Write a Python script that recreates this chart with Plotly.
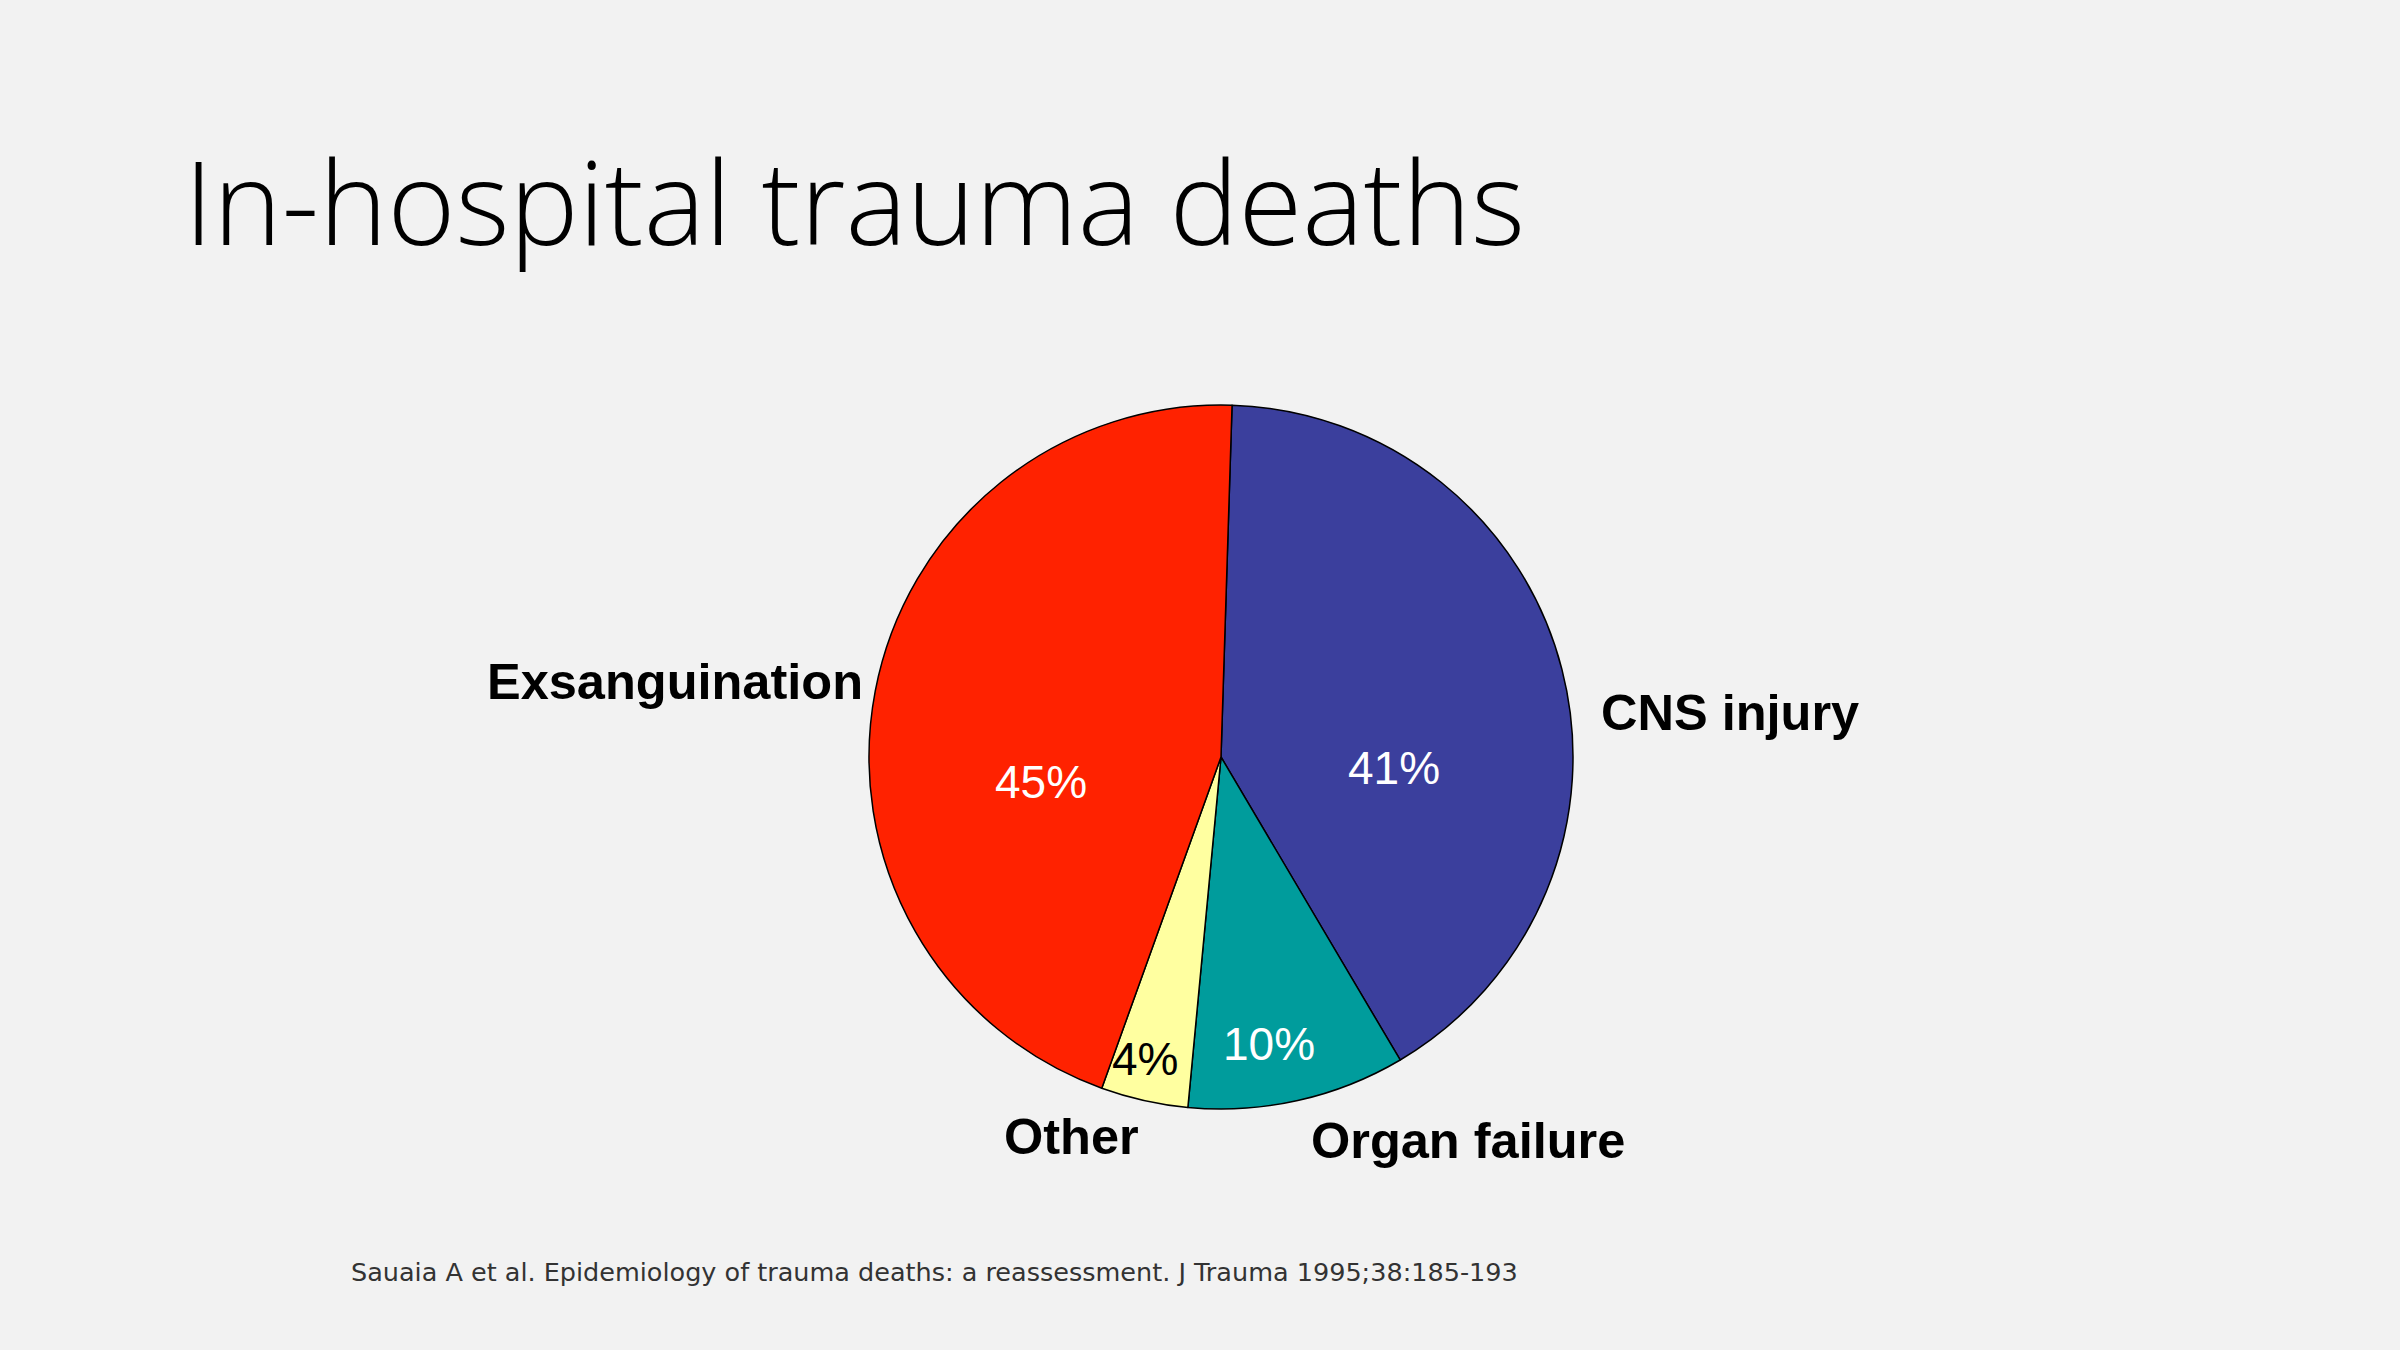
import plotly.graph_objects as go

W, H = 2400, 1350

categories = ["CNS injury", "Organ failure", "Other", "Exsanguination"]
values = [41, 10, 4, 45]
colors = ["#3b3f9d", "#009c9c", "#ffffa0", "#ff2200"]
pct_colors = ["white", "white", "black", "white"]

title_text = "In-hospital trauma deaths"
citation = "Sauaia A et al. Epidemiology of trauma deaths: a reassessment. J Trauma 1995;38:185-193"

# label placement (pixels in the 2400x1350 canvas)
label_pos = {
    "CNS injury": (1599, 712, "left"),
    "Organ failure": (1309, 1140, "left"),
    "Other": (1141, 1136, "right"),
    "Exsanguination": (865, 681, "right"),
}
pct_pos = [(1394, 768), (1269, 1044), (1145, 1059), (1041, 782)]

def px(x, y):
    return x / W, 1 - y / H

fig = go.Figure()
fig.add_trace(go.Pie(
    labels=categories,
    values=values,
    sort=False,
    direction="clockwise",
    rotation=1.8,
    marker=dict(colors=colors, line=dict(color="black", width=1.5)),
    textinfo="none",
    hoverinfo="label+percent",
    showlegend=False,
    domain=dict(x=[(1221 - 352) / W, (1221 + 352) / W],
                y=[1 - 1109 / H, 1 - 405 / H]),
))

annotations = []
for cat in categories:
    x, y, anchor = label_pos[cat]
    ax, ay = px(x, y)
    annotations.append(dict(
        x=ax, y=ay, xref="paper", yref="paper", xanchor=anchor, yanchor="middle",
        text=cat, showarrow=False,
        font=dict(family="Liberation Sans, Arial", size=50.5, color="black", weight="bold"),
    ))

total = sum(values)
for v, (x, y), c in zip(values, pct_pos, pct_colors):
    ax, ay = px(x, y)
    annotations.append(dict(
        x=ax, y=ay, xref="paper", yref="paper", xanchor="center", yanchor="middle",
        text=f"{round(100 * v / total)}%", showarrow=False,
        font=dict(family="Liberation Sans, Arial", size=46, color=c),
    ))

# title
tx, ty = px(182, 200)
annotations.append(dict(
    x=tx, y=ty, xref="paper", yref="paper", xanchor="left", yanchor="middle",
    text=title_text, showarrow=False,
    font=dict(family="Open Sans", size=116, color="black", weight=300),
))

# citation
cx, cy = px(349, 1272)
annotations.append(dict(
    x=cx, y=cy, xref="paper", yref="paper", xanchor="left", yanchor="middle",
    text=citation, showarrow=False,
    font=dict(family="DejaVu Sans, Verdana", size=25.5, color="#333333"),
))

fig.update_layout(
    width=W, height=H,
    margin=dict(l=0, r=0, t=0, b=0),
    paper_bgcolor="#f2f2f2",
    plot_bgcolor="#f2f2f2",
    annotations=annotations,
)

fig.write_html(
    "out.html",
    config={"displayModeBar": False},
    post_script="document.body.style.margin='0';document.body.style.background='#f2f2f2';",
)
